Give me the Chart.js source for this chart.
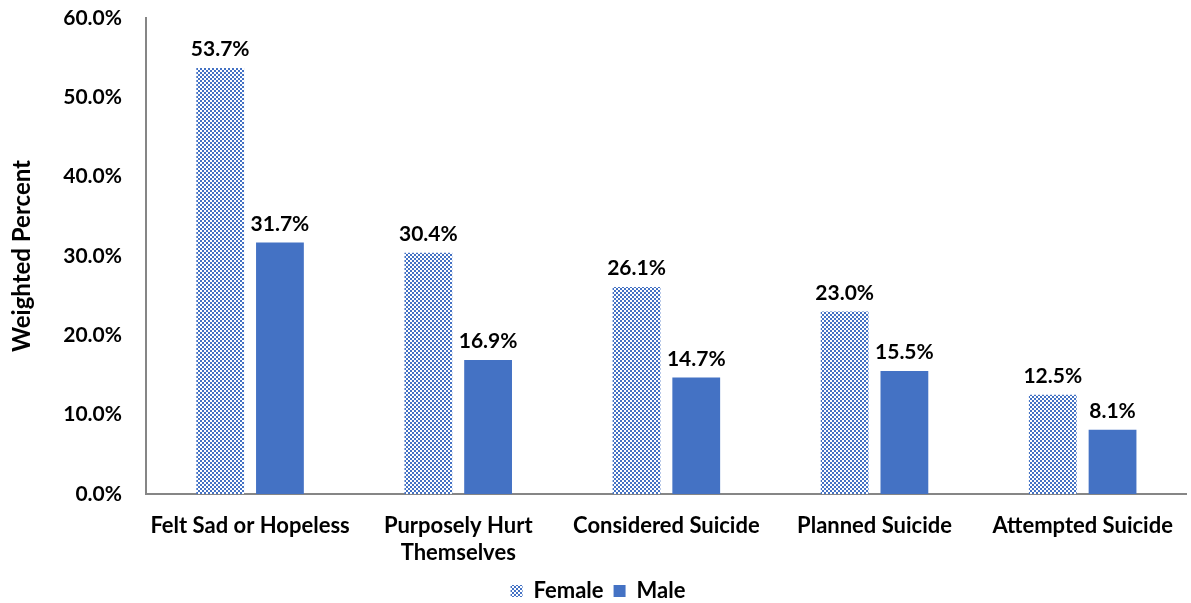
<!DOCTYPE html>
<html>
<head>
<meta charset="utf-8">
<script src="https://cdn.jsdelivr.net/npm/chart.js@4"></script>
<style>
  html, body { margin: 0; padding: 0; background: #fff; }
  #wrap { width: 1191px; height: 603px; }
</style>
</head>
<body>
<div id="wrap"><canvas id="chart" width="1191" height="603"></canvas></div>
<script>
// --- Données ---
const categories = ['Felt Sad or Hopeless', ['Purposely Hurt', 'Themselves'], 'Considered Suicide', 'Planned Suicide', 'Attempted Suicide'];
const femaleValues = [53.7, 30.4, 26.1, 23.0, 12.5];
const maleValues = [31.7, 16.9, 14.7, 15.5, 8.1];
const yTicks = [0, 10, 20, 30, 40, 50, 60];

const blue = '#4472C4';
const fontFamily = 'Lato, "Open Sans", sans-serif';

// --- Motif damier pour "Female" ---
function makeChecker() {
    const c = document.createElement('canvas');
    c.width = 4; c.height = 4;
    const g = c.getContext('2d');
    g.fillStyle = '#fff';
    g.fillRect(0, 0, 4, 4);
    g.fillStyle = blue;
    g.fillRect(0, 0, 2, 2);
    g.fillRect(2, 2, 2, 2);
    return g.createPattern(c, 'repeat');
}

// --- Étiquettes de valeurs au-dessus des barres ---
const valueLabels = {
    id: 'valueLabels',
    afterDatasetsDraw(chart) {
        const ctx = chart.ctx;
        ctx.save();
        ctx.fillStyle = '#000';
        ctx.font = 'bold 21px ' + fontFamily;
        ctx.textAlign = 'center';
        ctx.textBaseline = 'bottom';
        chart.data.datasets.forEach((ds, i) => {
            chart.getDatasetMeta(i).data.forEach((bar, j) => {
                ctx.fillText(ds.data[j].toFixed(1) + '%', bar.x, bar.y - 8);
            });
        });
        ctx.restore();
    }
};

const ctx = document.getElementById('chart').getContext('2d');
new Chart(ctx, {
    type: 'bar',
    data: {
        labels: categories,
        datasets: [
            { label: 'Female', data: femaleValues, backgroundColor: makeChecker(), borderWidth: 0 },
            { label: 'Male', data: maleValues, backgroundColor: blue, borderWidth: 0 }
        ]
    },
    options: {
        responsive: false,
        animation: false,
        categoryPercentage: 0.574,
        barPercentage: 0.8,
        layout: { padding: { top: 18, right: 1, left: 6, bottom: -9 } },
        plugins: {
            legend: {
                position: 'bottom',
                labels: {
                    boxWidth: 12,
                    boxHeight: 12,
                    padding: 10,
                    color: '#000',
                    font: { family: fontFamily, size: 22, weight: 'bold' }
                }
            },
            tooltip: { enabled: false }
        },
        scales: {
            x: {
                grid: { display: false, drawTicks: false },
                border: { color: '#868686', width: 2 },
                afterFit: (axis) => { axis.height = 76; axis.paddingTop = 0; axis.paddingBottom = 0; },
                ticks: {
                    color: '#000',
                    padding: 18,
                    maxRotation: 0,
                    autoSkip: false,
                    font: { family: fontFamily, size: 22, weight: 'bold', lineHeight: 1.25 }
                }
            },
            y: {
                min: 0,
                max: 60,
                afterBuildTicks: (axis) => { axis.ticks = yTicks.map(v => ({ value: v })); },
                afterFit: (axis) => { axis.width = 140; axis.paddingTop = 0; axis.paddingBottom = 0; },
                grid: { display: false, drawTicks: false },
                border: { color: '#868686', width: 2 },
                title: {
                    display: true,
                    text: 'Weighted Percent',
                    color: '#000',
                    padding: { top: 2, bottom: 0 },
                    font: { family: fontFamily, size: 24, weight: 'bold' }
                },
                ticks: {
                    color: '#000',
                    padding: 24,
                    callback: (v) => v.toFixed(1) + '%',
                    font: { family: fontFamily, size: 21, weight: 'bold' }
                }
            }
        }
    },
    plugins: [valueLabels]
});
</script>
</body>
</html>
